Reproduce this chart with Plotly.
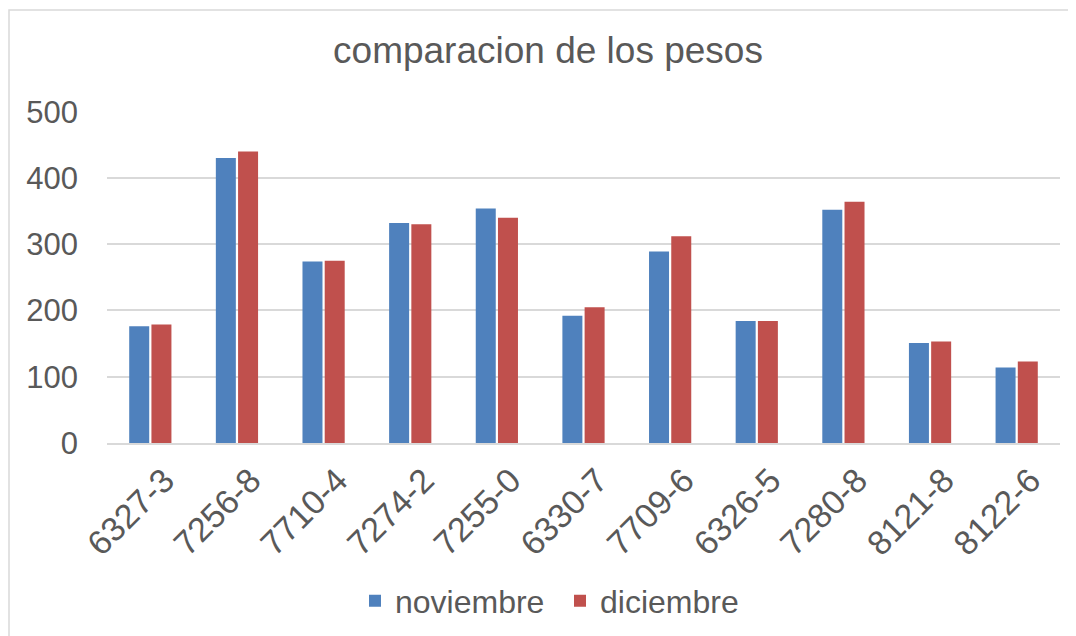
import plotly.graph_objects as go

categorias = ["6327-3", "7256-8", "7710-4", "7274-2", "7255-0", "6330-7",
              "7709-6", "6326-5", "7280-8", "8121-8", "8122-6"]
noviembre = [176, 430, 274, 332, 354, 192, 289, 184, 352, 151, 114]
diciembre = [179, 440, 275, 330, 340, 205, 312, 184, 364, 153, 123]
y_ticks = [0, 100, 200, 300, 400, 500]

FONT = "Liberation Sans, Arial, sans-serif"
GREY = "#595959"

fig = go.Figure()
fig.add_trace(go.Bar(name="noviembre", x=categorias, y=noviembre,
                     marker=dict(color="#4F81BD", line=dict(width=0))))
fig.add_trace(go.Bar(name="diciembre", x=categorias, y=diciembre,
                     marker=dict(color="#C0504D", line=dict(width=0))))

# figure coords (page adds an 8px body margin)
L, R, T, B = 99, 24, 103, 201
W, H = 1076, 636
pw, ph = W - L - R, H - T - B
y0px = H - B  # pixel row of value 0

fig.update_layout(
    width=W, height=H,
    margin=dict(l=L, r=R, t=T, b=B, pad=0, autoexpand=False),
    paper_bgcolor="white", plot_bgcolor="white",
    barmode="group", bargap=0.487, bargroupgap=0.1,
    font=dict(family=FONT, color=GREY, size=30),
    title=dict(text="comparacion de los pesos", x=540 / W, xref="container",
               xanchor="center", y=1 - 42 / H, yref="container", yanchor="middle",
               font=dict(family=FONT, size=37, color=GREY)),
    legend=dict(orientation="h", x=(347 - L) / pw, xanchor="left",
                y=(y0px - 593) / ph, yanchor="middle",
                entrywidth=160, entrywidthmode="pixels",
                font=dict(family=FONT, size=32, color=GREY),
                itemwidth=30, tracegroupgap=0),
    xaxis=dict(type="category", tickangle=-45, showgrid=False, automargin=False,
               showline=True, linecolor="#D9D9D9", linewidth=1.5,
               ticks="", ticklabelstandoff=2, ticklabelshift=14,
               tickfont=dict(family=FONT, size=34, color=GREY)),
    yaxis=dict(range=[0, 501], tickvals=y_ticks, showgrid=True, automargin=False,
               gridcolor="#D9D9D9", gridwidth=1.5, zeroline=False,
               showline=False, ticks="", ticklabelstandoff=28,
               tickfont=dict(family=FONT, size=31, color=GREY)),
    shapes=[dict(type="rect", xref="paper", yref="paper",
                 x0=(1 - L) / pw, x1=(W + 20 - L) / pw,
                 y0=(y0px - H - 20) / ph, y1=(y0px - 2) / ph,
                 line=dict(color="#D9D9D9", width=1.5), layer="below")],
)

fig.write_html("out.html")
